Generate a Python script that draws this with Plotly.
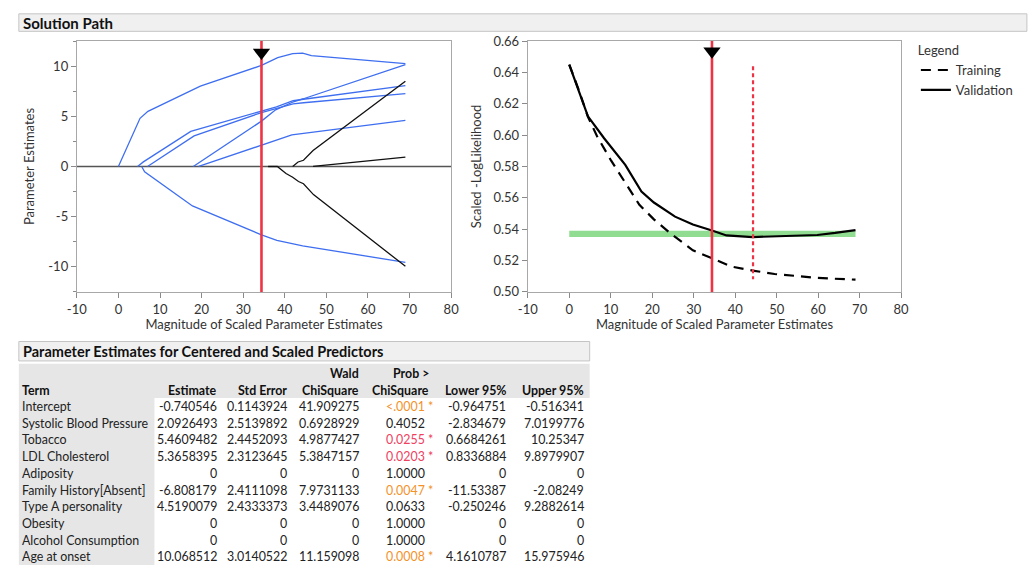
import plotly.graph_objects as go

W, H = 1029, 577
FONT = "Lato, 'Noto Sans', sans-serif"

# ---------------- data: solution path (left) ----------------
age_x = [0, 5.2, 7.1, 19.7, 34.4, 38.3, 41.9, 44.3, 46.4, 69]
age_y = [0, 4.8, 5.5, 8.0, 10.07, 10.85, 11.25, 11.3, 11.05, 10.25]
tob_x = [4.6, 6.0, 17.4, 34.4, 38.0, 42.0, 44.5, 69]
tob_y = [0, 0.46, 3.5, 5.46, 5.95, 6.55, 6.7, 8.05]
ldl_x = [7.0, 18.2, 34.4, 38.0, 42.0, 44.5, 69]
ldl_y = [0, 3.05, 5.37, 5.8, 6.25, 6.35, 7.27]
typea_x = [18.0, 34.4, 37.8, 42.1, 44.5, 69]
typea_y = [0, 4.52, 5.65, 6.45, 6.75, 10.15]
sbp_x = [19.3, 34.4, 38.1, 41.7, 69]
sbp_y = [0, 2.09, 2.66, 3.15, 4.6]
fam_x = [5.6, 6.3, 17.8, 34.4, 38.1, 44.3, 69]
fam_y = [0, -0.52, -3.93, -6.81, -7.37, -7.92, -9.55]
adip_x = [41.9, 43.2, 44.5, 46.8, 69]
adip_y = [0, 0.45, 0.62, 1.59, 8.5]
alc_x = [46.8, 69]
alc_y = [0, 0.94]
obes_x = [36.0, 38.2, 40.3, 41.9, 43.3, 44.5, 46.9, 69]
obes_y = [0, 0, -0.7, -1.07, -1.5, -1.72, -2.8, -9.95]

blue_paths = [(age_x, age_y), (tob_x, tob_y), (ldl_x, ldl_y), (typea_x, typea_y),
              (sbp_x, sbp_y), (fam_x, fam_y)]
black_paths = [(adip_x, adip_y), (alc_x, alc_y), (obes_x, obes_y)]

selected_x = 34.4
best_x = 44.3

x_ticks = [-10, 0, 10, 20, 30, 40, 50, 60, 70, 80]
x_tick_labels = ["-10", "0", "10", "20", "30", "40", "50", "60", "70", "80"]
y1_ticks = [-10, -5, 0, 5, 10]
y1_tick_labels = ["-10", "-5", "0", "5", "10"]

# ---------------- data: -loglikelihood (right) ----------------
val_x = [0, 2.4, 4.5, 8.4, 13.5, 17.4, 20.4, 25.5, 29.8, 34.4, 37.9, 44.2, 49.5, 59.8, 64.1, 69]
val_y = [0.645, 0.628, 0.612, 0.598, 0.581, 0.564, 0.557, 0.548, 0.543, 0.5392, 0.536, 0.535,
         0.5353, 0.5363, 0.5376, 0.5394]
train_x = [0, 2.4, 4.5, 6.7, 10.1, 13.5, 16.9, 20.4, 24.6, 29.8, 34.4, 39.2, 44.2, 49.5, 55.5,
           59.8, 69]
train_y = [0.645, 0.628, 0.6117, 0.5993, 0.5837, 0.5692, 0.5556, 0.5463, 0.5369, 0.5265, 0.5213,
           0.5161, 0.5136, 0.5114, 0.5100, 0.5089, 0.5078]
band_x = [0, 69]
band_lo = 0.535
band_hi = 0.539
best_line_y = [0.644, 0.508]

# ---------------- data: table ----------------
terms = ["Intercept", "Systolic Blood Pressure", "Tobacco", "LDL Cholesterol", "Adiposity",
         "Family History[Absent]", "Type A personality", "Obesity", "Alcohol Consumption",
         "Age at onset"]
estimate = ["-0.740546", "2.0926493", "5.4609482", "5.3658395", "0", "-6.808179", "4.5190079",
            "0", "0", "10.068512"]
std_error = ["0.1143924", "2.5139892", "2.4452093", "2.3123645", "0", "2.4111098", "2.4333373",
             "0", "0", "3.0140522"]
wald = ["41.909275", "0.6928929", "4.9877427", "5.3847157", "0", "7.9731133", "3.4489076",
        "0", "0", "11.159098"]
prob = ["<.0001", "0.4052", "0.0255", "0.0203", "1.0000", "0.0047", "0.0633", "1.0000",
        "1.0000", "0.0008"]
prob_sig = [True, False, True, True, False, True, False, False, False, True]
prob_color = ["#f4922a", "#222222", "#f0405e", "#f0405e", "#222222", "#f4922a", "#222222",
              "#222222", "#222222", "#f4922a"]
lower95 = ["-0.964751", "-2.834679", "0.6684261", "0.8336884", "0", "-11.53387", "-0.250246",
           "0", "0", "4.1610787"]
upper95 = ["-0.516341", "7.0199776", "10.25347", "9.8979907", "0", "-2.08249", "9.2882614",
           "0", "0", "15.975946"]


def px(x):
    return x / W


def py(y):
    return 1 - y / H


BLUE = "#3f6ff0"
RED = "#ee3344"

fig = go.Figure()

# zero line on left
fig.add_trace(go.Scatter(x=[-10, 80], y=[0, 0], mode="lines", line=dict(color="#555555", width=1.6),
                         xaxis="x", yaxis="y", showlegend=False, hoverinfo="skip"))
for xs, ys in blue_paths:
    fig.add_trace(go.Scatter(x=xs, y=ys, mode="lines", line=dict(color=BLUE, width=1.3),
                             xaxis="x", yaxis="y", showlegend=False))
for xs, ys in black_paths:
    fig.add_trace(go.Scatter(x=xs, y=ys, mode="lines", line=dict(color="#111111", width=1.3),
                             xaxis="x", yaxis="y", showlegend=False))
fig.add_trace(go.Scatter(x=[selected_x, selected_x], y=[-12.5, 12.5], mode="lines",
                         line=dict(color=RED, width=2.6), xaxis="x", yaxis="y", showlegend=False))
fig.add_trace(go.Scatter(x=[selected_x], y=[11.35], mode="markers",
                         marker=dict(symbol="triangle-down", size=15, color="black"),
                         xaxis="x", yaxis="y", showlegend=False))

# right plot
fig.add_trace(go.Scatter(x=band_x + band_x[::-1], y=[band_lo, band_lo, band_hi, band_hi],
                         fill="toself", fillcolor="#90dc90", line=dict(width=0), mode="lines",
                         xaxis="x2", yaxis="y2", showlegend=False, hoverinfo="skip"))
fig.add_trace(go.Scatter(x=train_x, y=train_y, mode="lines", name="Training",
                         line=dict(color="black", width=2.2, dash="10px,7px"),
                         xaxis="x2", yaxis="y2"))
fig.add_trace(go.Scatter(x=val_x, y=val_y, mode="lines", name="Validation",
                         line=dict(color="black", width=2.2), xaxis="x2", yaxis="y2"))
fig.add_trace(go.Scatter(x=[selected_x, selected_x], y=[0.50, 0.66], mode="lines",
                         line=dict(color=RED, width=2.6), xaxis="x2", yaxis="y2", showlegend=False))
fig.add_trace(go.Scatter(x=[best_x, best_x], y=best_line_y, mode="lines",
                         line=dict(color=RED, width=2.2, dash="4px,3px"),
                         xaxis="x2", yaxis="y2", showlegend=False))
fig.add_trace(go.Scatter(x=[selected_x], y=[0.6535], mode="markers",
                         marker=dict(symbol="triangle-down", size=15, color="black"),
                         xaxis="x2", yaxis="y2", showlegend=False))

axis_common = dict(showline=True, mirror=True, linecolor="#a8a8a8", linewidth=1, ticks="outside",
                   tickcolor="#8a8a8a", ticklen=5, showgrid=False, zeroline=False,
                   tickfont=dict(family=FONT, size=13, color="#333333"),
                   title_font=dict(family=FONT, size=13, color="#333333"))

fig.update_layout(
    width=W, height=H, margin=dict(l=0, r=0, t=0, b=0),
    paper_bgcolor="white", plot_bgcolor="white",
    font=dict(family=FONT, color="#222222"),
    xaxis=dict(domain=[px(68), px(449)], range=[-10, 80], tickvals=x_ticks, ticktext=x_tick_labels,
               anchor="y",
               title=dict(text="Magnitude of Scaled Parameter Estimates", standoff=2), **axis_common),
    yaxis=dict(domain=[py(292), py(34)], range=[-12.5, 12.5], tickvals=y1_ticks,
               ticktext=y1_tick_labels, anchor="x",
               minor=dict(dtick=2.5, ticks="outside", ticklen=3, tickcolor="#8a8a8a"),
               title=dict(text="Parameter Estimates", standoff=10), **axis_common),
    xaxis2=dict(domain=[px(527), px(907)], range=[-10, 80], tickvals=x_ticks, ticktext=x_tick_labels,
                anchor="y2",
                title=dict(text="Magnitude of Scaled Parameter Estimates", standoff=2), **axis_common),
    yaxis2=dict(domain=[py(292), py(34)], range=[0.50, 0.66], dtick=0.02, tickformat=".2f",
                anchor="x2", title=dict(text="Scaled -LogLikelihood", standoff=8), **axis_common),
    legend=dict(x=px(922), y=py(31), xanchor="left", yanchor="top", bgcolor="rgba(0,0,0,0)",
                title=dict(text="Legend", font=dict(family=FONT, size=13, color="#333333")),
                font=dict(family=FONT, size=13, color="#333333"), itemwidth=30, tracegroupgap=0),
)

shapes = []
annotations = []

# Solution Path bar
shapes.append(dict(type="rect", xref="paper", yref="paper", x0=px(9), x1=px(1035), y0=py(24), y1=py(6),
                   fillcolor="#f0f0f0", line=dict(color="#c4c4c4", width=1), layer="below"))
annotations.append(dict(text="<b>Solution Path</b>", xref="paper", yref="paper", x=px(11), y=py(15),
                        xanchor="left", yanchor="middle", showarrow=False,
                        font=dict(family=FONT, size=15, color="#111111")))

# Table title bar
shapes.append(dict(type="rect", xref="paper", yref="paper", x0=px(9), x1=px(590), y0=py(363), y1=py(343),
                   fillcolor="#f0f0f0", line=dict(color="#c4c4c4", width=1), layer="below"))
annotations.append(dict(text="<b>Parameter Estimates for Centered and Scaled Predictors</b>",
                        xref="paper", yref="paper", x=px(11), y=py(353), xanchor="left",
                        yanchor="middle", showarrow=False,
                        font=dict(family=FONT, size=14.5, color="#111111")))
# header background
shapes.append(dict(type="rect", xref="paper", yref="paper", x0=px(9), x1=px(590), y0=py(401), y1=py(366),
                   fillcolor="#e6e6e6", line=dict(width=0), layer="below"))
# term column background
shapes.append(dict(type="rect", xref="paper", yref="paper", x0=px(9), x1=px(147), y0=py(573), y1=py(401),
                   fillcolor="#e6e6e6", line=dict(width=0), layer="below"))

TS = 12.4
hdr_font = dict(family=FONT, size=TS, color="#111111")
cell_font = dict(family=FONT, size=TS, color="#222222")
col_right = [213, 284, 357, 424, 507, 586]
headers_top = ["", "", "Wald", "Prob >", "", ""]
headers_bot = ["Estimate", "Std Error", "ChiSquare", "ChiSquare", "Lower 95%", "Upper 95%"]
hdr_right = [213, 284, 357, 429, 507, 586]

annotations.append(dict(text="<b>Term</b>", xref="paper", yref="paper", x=px(10), y=py(393),
                        xanchor="left", yanchor="middle", showarrow=False, font=hdr_font))
for top, bot, xr in zip(headers_top, headers_bot, hdr_right):
    if top:
        annotations.append(dict(text="<b>%s</b>" % top, xref="paper", yref="paper", x=px(xr), y=py(376),
                                xanchor="right", yanchor="middle", showarrow=False, font=hdr_font))
    annotations.append(dict(text="<b>%s</b>" % bot, xref="paper", yref="paper", x=px(xr), y=py(393),
                            xanchor="right", yanchor="middle", showarrow=False, font=hdr_font))

row_y0, row_h = 410, 17.15
cols = [estimate, std_error, wald, prob, lower95, upper95]
for i, term in enumerate(terms):
    yc = row_y0 + i * row_h
    annotations.append(dict(text=term, xref="paper", yref="paper", x=px(10), y=py(yc),
                            xanchor="left", yanchor="middle", showarrow=False, font=cell_font))
    for j, col in enumerate(cols):
        f = dict(cell_font)
        if j == 3:
            f["color"] = prob_color[i]
        annotations.append(dict(text=col[i], xref="paper", yref="paper", x=px(col_right[j]), y=py(yc),
                                xanchor="right", yanchor="middle", showarrow=False, font=f))
        if j == 3 and prob_sig[i]:
            annotations.append(dict(text="*", xref="paper", yref="paper", x=px(col_right[j] - 1), y=py(yc),
                                    xanchor="left", yanchor="middle", showarrow=False, font=f))

fig.update_layout(shapes=shapes, annotations=annotations)
fig.write_html("out.html")
